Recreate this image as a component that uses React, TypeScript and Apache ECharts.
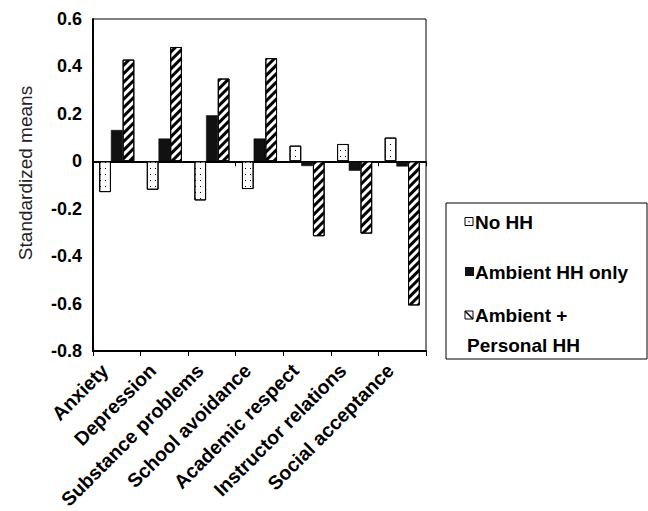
import React, { useEffect, useRef } from "react";
import * as echarts from "echarts";

const categories = [
  "Anxiety",
  "Depression",
  "Substance problems",
  "School avoidance",
  "Academic respect",
  "Instructor relations",
  "Social acceptance",
];
const noHH = [-0.13, -0.12, -0.165, -0.117, 0.066, 0.073, 0.1];
const ambientOnly = [0.132, 0.096, 0.194, 0.096, -0.02, -0.04, -0.022];
const ambientPersonal = [0.429, 0.482, 0.349, 0.435, -0.316, -0.305, -0.608];
const seriesNames = ["No HH", "Ambient HH only", "Ambient + Personal HH"];
const yTicks = { min: -0.8, max: 0.6, interval: 0.2 };
const yAxisTitle = "Standardized means";

const FONT = "Liberation Sans, Arial, sans-serif";

export default function App() {
  const ref = useRef<HTMLDivElement>(null);
  useEffect(() => {
    if (!ref.current) return;
    const chart = echarts.init(ref.current, undefined, { renderer: "svg" });
    const dotDecal = {
      symbol: "rect",
      symbolSize: 1,
      color: "#000",
      backgroundColor: "#fff",
      dashArrayX: [[1, 4]],
      dashArrayY: [1, 5],
    };
    const stripeDecal = {
      symbol: "rect",
      symbolSize: 1,
      color: "#000",
      backgroundColor: "#fff",
      dashArrayX: [1, 0],
      dashArrayY: [2.6, 2.2],
      rotation: -Math.PI / 4,
    };
    const bw = 11.7;
    chart.setOption({
      animation: false,
      backgroundColor: "#fff",
      grid: {
        left: 93,
        right: 222,
        top: 19,
        bottom: 160,
        show: true,
        borderColor: "#000",
        borderWidth: 1,
        backgroundColor: "transparent",
        containLabel: false,
        outerBoundsMode: "none",
      },
      xAxis: [
        {
          type: "category",
          data: categories,
          position: "bottom",
          axisLine: { onZero: true, lineStyle: { color: "#000", width: 2 } },
          axisTick: { show: true, length: 5, lineStyle: { color: "#000", width: 1 } },
          axisLabel: { show: false },
          splitLine: { show: false },
        },
        {
          type: "category",
          data: categories,
          position: "bottom",
          axisLine: { onZero: false, lineStyle: { color: "#000", width: 2 } },
          axisTick: { show: true, length: 5, lineStyle: { color: "#000", width: 1 } },
          axisLabel: {
            show: true,
            interval: 0,
            rotate: 45,
            margin: 4,
            padding: [0, 17, 0, 0],
            color: "#000",
            fontWeight: "bold",
            fontSize: 19.5,
            fontFamily: FONT,
          },
          splitLine: { show: false },
        },
      ],
      yAxis: {
        type: "value",
        min: yTicks.min,
        max: yTicks.max,
        interval: yTicks.interval,
        axisLine: { show: true, lineStyle: { color: "#000", width: 2 } },
        axisTick: { show: false },
        splitLine: { show: false },
        axisLabel: {
          color: "#000",
          fontWeight: "bold",
          fontSize: 18,
          fontFamily: FONT,
          margin: 11,
          formatter: (v: number) => String(Number(v.toFixed(1))),
        },
      },
      series: [
        {
          name: seriesNames[0],
          type: "bar",
          xAxisIndex: 0,
          data: noHH,
          barWidth: bw,
          barGap: "0%",
          itemStyle: { color: "#fff", borderColor: "#000", borderWidth: 1, decal: dotDecal },
        },
        {
          name: seriesNames[1],
          type: "bar",
          xAxisIndex: 0,
          data: ambientOnly,
          barWidth: bw,
          barGap: "0%",
          itemStyle: { color: "#111", borderColor: "#000", borderWidth: 0.5 },
        },
        {
          name: seriesNames[2],
          type: "bar",
          xAxisIndex: 0,
          data: ambientPersonal,
          barWidth: bw,
          barGap: "0%",
          itemStyle: { color: "#fff", borderColor: "#000", borderWidth: 1, decal: stripeDecal },
        },
      ],
      graphic: [
        {
          type: "text",
          x: 25,
          y: 173,
          rotation: Math.PI / 2,
          style: {
            text: yAxisTitle,
            fontSize: 19,
            fontFamily: FONT,
            fill: "#222",
            align: "center",
            verticalAlign: "middle",
          },
        },
        {
          type: "rect",
          shape: { x: 446, y: 203, width: 201, height: 156 },
          style: { fill: "#fff", stroke: "#000", lineWidth: 1 },
        },
        {
          type: "rect",
          shape: { x: 465, y: 217.5, width: 8, height: 8 },
          style: { fill: "#fff", stroke: "#000", lineWidth: 1 },
        },
        {
          type: "rect",
          shape: { x: 468.5, y: 221, width: 1.2, height: 1.2 },
          style: { fill: "#000" },
        },
        {
          type: "rect",
          shape: { x: 465, y: 267, width: 9, height: 9 },
          style: { fill: "#111" },
        },
        {
          type: "rect",
          shape: { x: 465, y: 311, width: 8, height: 8 },
          style: { fill: "#fff", stroke: "#000", lineWidth: 1 },
        },
        {
          type: "line",
          shape: { x1: 465, y1: 311, x2: 473, y2: 319 },
          style: { stroke: "#000", lineWidth: 1.5 },
        },
        {
          type: "text",
          x: 475,
          y: 222,
          style: { text: "No HH", fontSize: 19, fontWeight: "bold", fontFamily: FONT, fill: "#000", verticalAlign: "middle" },
        },
        {
          type: "text",
          x: 475,
          y: 272,
          style: { text: "Ambient HH only", fontSize: 19, fontWeight: "bold", fontFamily: FONT, fill: "#000", verticalAlign: "middle" },
        },
        {
          type: "text",
          x: 475,
          y: 315,
          style: { text: "Ambient +", fontSize: 19, fontWeight: "bold", fontFamily: FONT, fill: "#000", verticalAlign: "middle" },
        },
        {
          type: "text",
          x: 467,
          y: 345,
          style: { text: "Personal HH", fontSize: 19, fontWeight: "bold", fontFamily: FONT, fill: "#000", verticalAlign: "middle" },
        },
      ],
    });
    return () => chart.dispose();
  }, []);
  return (
    <div
      ref={ref}
      style={{ position: "fixed", left: 0, top: 0, width: 648, height: 511, background: "#fff" }}
    />
  );
}
